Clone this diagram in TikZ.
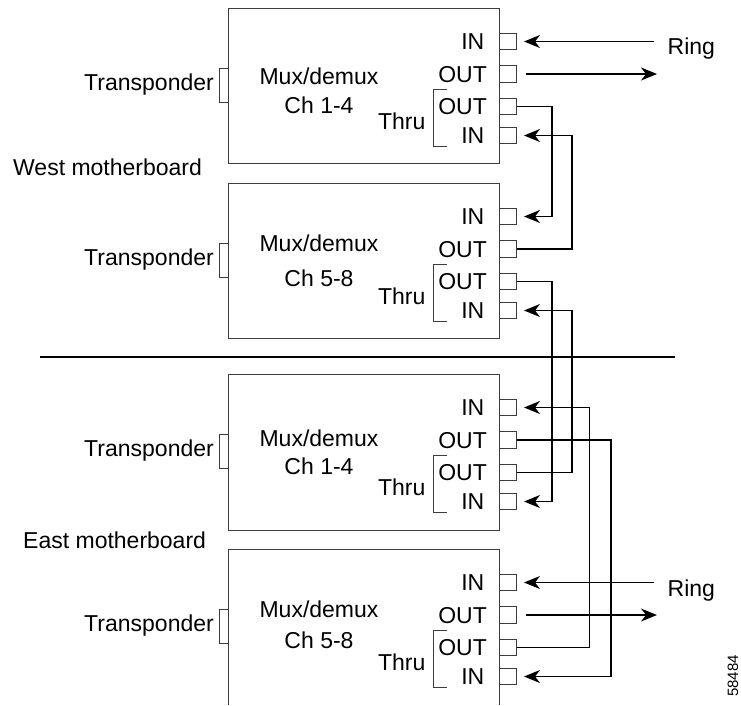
\documentclass[tikz,border=0pt]{standalone}
\usepackage{fontspec}
\setmainfont{Liberation Sans}
\usepackage{xcolor}
\definecolor{muxgray}{RGB}{60, 60, 60}
\usetikzlibrary{arrows.meta, positioning}

\begin{document}
\begin{tikzpicture}[
    x=1pt, y=-1pt,
    >={Stealth[length=16pt, width=13pt, inset=5pt]},
    lbl/.style={font=\fontsize{23}{27}\selectfont, text height=16.5pt, text depth=0pt, inner sep=0pt},
    frame/.style={draw=muxgray, line width=1pt},
    port/.style={frame, minimum width=17pt, minimum height=16.5pt, inner sep=0pt, anchor=west},
    link/.style={line width=1.2pt}
]
\useasboundingbox (0,0) rectangle (741,705);

% Cajas de las tarjetas
\draw[frame] (228,8) rectangle (499,163);
\draw[frame] (228,183) rectangle (499,338);
\draw[frame] (228,374) rectangle (499,530);
\draw[frame] (228,705) |- (499,549) -- (499,705);

% Contenido de cada tarjeta
\foreach \i/\ytop/\chn/\muxy/\chy in {1/8/1-4/75.8/105, 2/183/5-8/243.7/278.7, 3/374/1-4/438.3/466.2, 4/549/5-8/608.8/640} {
    \node[lbl] (mux\i) at (319,\muxy) {Mux/demux};
    \node[lbl] (ch\i) at (319,\chy) {Ch \chn};
    % Transponder
    \node[lbl, anchor=east] (tr\i) at (214,\ytop+74.7) {Transponder};
    \draw[frame] (228,\ytop+60) -- (219,\ytop+60) -- (219,\ytop+94) -- (228,\ytop+94);
    % Puertos
    \node[port] (in\i) at (499,\ytop+33.5) {};
    \node[port] (out\i) at (499,\ytop+66) {};
    \node[port] (tout\i) at (499,\ytop+98.5) {};
    \node[port] (tin\i) at (499,\ytop+127.5) {};
    \node[lbl, anchor=east] (inlbl\i) at (484.5,\ytop+33.5) {IN};
    \node[lbl, anchor=east] (outlbl\i) at (487,\ytop+66) {OUT};
    \node[lbl, anchor=east] (toutlbl\i) at (487,\ytop+98.5) {OUT};
    \node[lbl, anchor=east] (tinlbl\i) at (484.5,\ytop+127.5) {IN};
    % Thru
    \node[lbl, anchor=east] (thru\i) at (425.5,\ytop+113) {Thru};
    \draw[frame] (446.7,\ytop+81.3) -| (433.3,\ytop+138.7) -- (446.7,\ytop+138.7);
}

% Motherboards
\node[lbl, anchor=west] (west) at (13,167.5) {West motherboard};
\node[lbl, anchor=west] (east) at (23,540) {East motherboard};
\draw[line width=1.8pt] (40,356.7) -- (675,356.7);

% Anillo
\node[lbl, anchor=west] (ringw) at (667.5,46.7) {Ring};
\node[lbl, anchor=west] (ringe) at (667.5,588.7) {Ring};
\coordinate (wrin) at (654,41.5);
\coordinate (wrout) at (657,74);
\coordinate (erin) at (654,582.5);
\coordinate (erout) at (657,615);
\draw[link, ->, shorten >=7pt] (wrin) -- (in1.east);
\draw[link, ->, shorten <=9pt] (out1.east) -- (wrout);
\draw[link, ->, shorten >=7pt] (erin) -- (in4.east);
\draw[link, ->, shorten <=9pt] (out4.east) -- (erout);

% Conexiones Thru
\draw[link, ->, shorten >=7pt] (tout1.east) -- ++(35,0) |- (in2.east);
\draw[link, ->, shorten >=7pt] (out2.east) -- ++(55,0) |- (tin1.east);
\draw[link, ->, shorten >=7pt] (tout2.east) -- ++(35,0) |- (tin3.east);
\draw[link, ->, shorten >=7pt] (tout3.east) -- ++(55,0) |- (tin2.east);
\draw[link, ->, shorten >=7pt] (out3.east) -- ++(94,0) |- (tin4.east);
\draw[link, ->, shorten >=7pt] (tout4.east) -- ++(72.3,0) |- (in3.east);

% Numero de figura
\node[font=\fontsize{15}{17}\selectfont, rotate=90, inner sep=0pt] (fignum) at (733,676) {58484};

\end{tikzpicture}
\end{document}
